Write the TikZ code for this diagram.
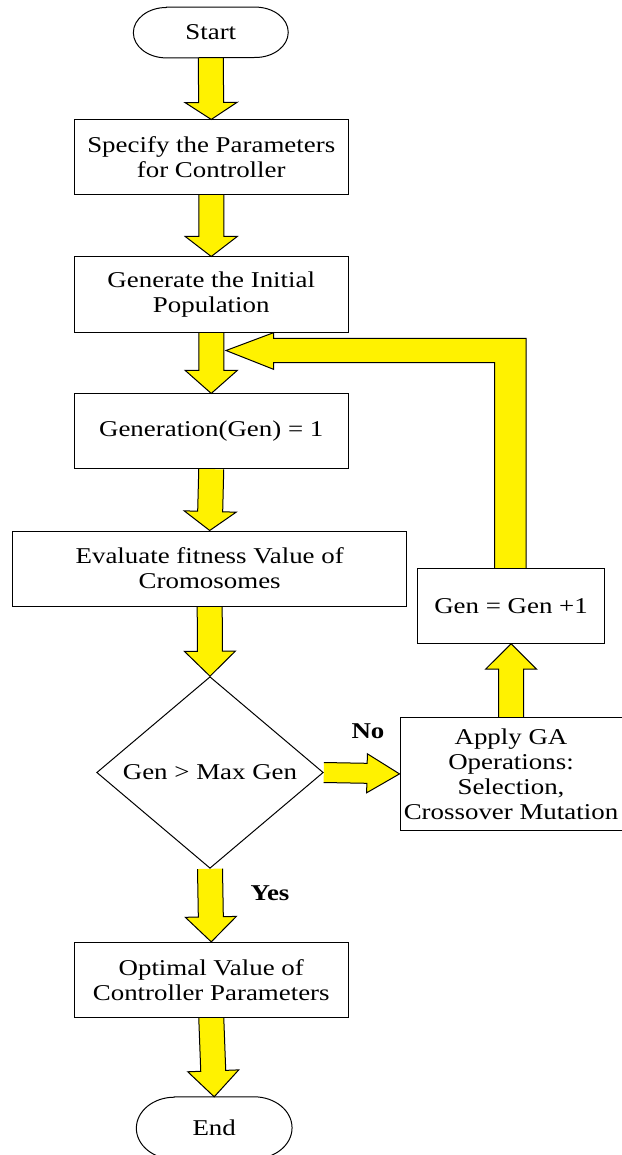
\documentclass[tikz,border=0pt]{standalone}
\usepackage{fontspec}
\setmainfont{Liberation Serif}[FakeStretch=1.19]
\usetikzlibrary{calc,shapes.geometric,backgrounds}
\tikzset{
  txt/.style={font=\fontsize{22.6}{25}\selectfont},
  box/.style={txt, draw, line width=1pt, rectangle, inner sep=2pt, align=center},
  term/.style={txt, inner sep=0pt},
  barrow/.style={fill=yellow, draw=black, line width=1pt, line join=miter},
  lbl/.style={font=\fontsize{22.6}{25}\selectfont\bfseries},
}
% #1 from, #2 to (tip), #3 shaft half width, #4 head half width, #5 head length
\newcommand\blockarrow[5]{%
  \coordinate (ba-b) at ($(#2)!#5!(#1)$);
  \filldraw[barrow] ($(#1)!#3!90:(#2)$) -- ($(ba-b)!#3!90:(#2)$) -- ($(ba-b)!#4!90:(#2)$)
    -- (#2) -- ($(ba-b)!#4!-90:(#2)$) -- ($(ba-b)!#3!-90:(#2)$) -- ($(#1)!#3!-90:(#2)$);
}
% terminal outline round node #1, with x radius #2 and y radius #3
\newcommand\terminal[3]{%
  \draw[line width=1pt] ([xshift=#2]#1.north west) -- ([xshift=-#2]#1.north east)
    arc[start angle=90,end angle=-90,x radius=#2,y radius=#3]
    -- ([xshift=#2]#1.south west)
    arc[start angle=270,end angle=90,x radius=#2,y radius=#3] -- cycle;
}
\begin{document}
\begin{tikzpicture}[x=1pt,y=-1pt]
\useasboundingbox (0,0) rectangle (621,1155);

\node[term, minimum width=154.5pt, minimum height=50.4pt] (start) at (210.8,32.5) {Start};
\terminal{start}{33pt}{25.2pt}

\node[box, minimum width=273.5pt, minimum height=74.7pt] (b1) at (211.25,157.3)
  {Specify the Parameters\\for Controller};
\node[box, minimum width=273.5pt, minimum height=75pt] (b2) at (211.25,294.5)
  {Generate the Initial\\Population};
\node[box, minimum width=273.5pt, minimum height=74.7pt] (b3) at (211.25,431.3)
  {Generation(Gen) = 1};
\node[box, minimum width=394pt, minimum height=75pt] (b4) at (209.7,568.5)
  {Evaluate fitness Value of\\Cromosomes};
\node[diamond, draw, line width=1pt, inner sep=0pt, minimum width=226.6pt, minimum height=191.6pt,
  label={[txt]center:Gen > Max Gen}] (dec) at (210,772.5) {};
\node[box, minimum width=273.5pt, minimum height=74.7pt] (b5) at (211.25,979.7)
  {Optimal Value of\\Controller Parameters};
\node[term, minimum width=155.3pt, minimum height=62pt] (endn) at (214.2,1128) {End};
\terminal{endn}{38pt}{31pt}

\node[box, minimum width=186.6pt, minimum height=75pt] (genp) at (511.1,605.8) {Gen = Gen +1};
\node[box, minimum width=222pt, minimum height=112.3pt] (apply) at (511,773.9)
  {Apply GA\\Operations:\\Selection,\\Crossover Mutation};

\node[lbl] (no) at (368,731.7) {No};
\node[lbl] (yes) at (270,893) {Yes};

\coordinate (fbtip) at (226,350.5);

\begin{pgfonlayer}{background}
  \fill[white] (0,0) rectangle (621,1155);
  \blockarrow{start.south}{b1.north}{12.5pt}{26pt}{17pt}
  \blockarrow{b1.south}{b2.north}{12.5pt}{26pt}{20pt}
  \blockarrow{b2.south}{b3.north}{12.5pt}{26pt}{23pt}
  \blockarrow{b3.south}{b4.north}{12.5pt}{26pt}{19pt}
  \blockarrow{b4.south}{dec.north}{12.5pt}{25.5pt}{25pt}
  \blockarrow{dec.south}{b5.north}{12.5pt}{25.5pt}{25pt}
  \blockarrow{b5.south}{endn.north}{12.5pt}{25.5pt}{26pt}
  \blockarrow{apply.north}{genp.south}{12.5pt}{25.5pt}{25.4pt}
  \blockarrow{dec.east}{apply.west}{10pt}{19.5pt}{32.5pt}
  \path (genp.north |- fbtip) coordinate (fbc);
  \filldraw[barrow] ($(genp.north)+(-16.5pt,0)$) -- ($(fbc)+(-16.5pt,-12.2pt)$)
    -- ($(fbtip)+(47.5pt,-12.2pt)$) -- ($(fbtip)+(47.5pt,-18.8pt)$) -- (fbtip)
    -- ($(fbtip)+(47.5pt,17.8pt)$) -- ($(fbtip)+(47.5pt,12.2pt)$)
    -- ($(fbc)+(15pt,12.2pt)$) -- ($(genp.north)+(15pt,0)$);
\end{pgfonlayer}
\end{tikzpicture}
\end{document}
